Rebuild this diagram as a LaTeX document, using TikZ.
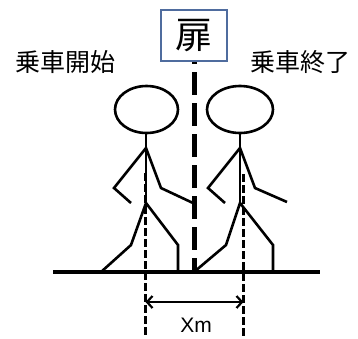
\documentclass[tikz,border=0pt]{standalone}
\usepackage{fontspec}
\setsansfont{Liberation Sans}
\newfontfamily\jpfont{Noto Sans CJK JP}
\usetikzlibrary{arrows.meta}
\definecolor{doorblue}{RGB}{79,108,158}
\tikzset{
  figure/.style={line width=2.6pt, line join=miter},
  ground/.style={line width=4.5pt},
  doorline/.style={line width=5pt, dash pattern=on 23pt off 8pt, dash phase=21pt},
  guide/.style={line width=3.8pt, dash pattern=on 7.5pt off 3.5pt},
  label/.style={font=\jpfont\fontsize{25}{25}\selectfont, inner sep=0pt},
  doorbox/.style={draw=doorblue, line width=1.2pt, minimum width=66pt, minimum height=51pt,
    font=\jpfont\fontsize{37}{37}\selectfont, inner sep=0pt},
  measure/.style={line width=2.2pt, {Straight Barb[length=5.5pt,width=12pt,line width=2.2pt]}-{Straight Barb[length=5.5pt,width=12pt,line width=2.2pt]}},
}
\begin{document}
\begin{tikzpicture}[x=1pt,y=-1pt]
  \useasboundingbox (0,0) rectangle (358,338);

  % door sign and door line
  \node[doorbox] (door) at (194,35.5) {扉};
  \coordinate (doortop) at (194,62);
  \coordinate (doorfoot) at (194,272);
  \draw[doorline] (doortop) -- (doorfoot);

  % labels
  \node[label] (start) at (65.5,62) {乗車開始};
  \node[label] (end) at (300.5,62) {乗車終了};

  % person at boarding start
  \draw[figure] (146.5,109.5) ellipse [x radius=31.5, y radius=23.5];
  \draw[figure] (146,133) -- (146,203);
  \draw[figure] (131,203) -- (114,188) -- (146,148) -- (161,188) -- (193,203);
  \draw[figure] (101,272) -- (131,245) -- (146,203) -- (178,245) -- (178,272);

  % person at boarding end
  \draw[figure] (240,109.5) ellipse [x radius=33, y radius=23.5];
  \draw[figure] (240,133) -- (240,203);
  \draw[figure] (225,203) -- (208,188) -- (240,148) -- (255,188) -- (287,202);
  \draw[figure] (194,272) -- (226,245) -- (240,203) -- (273,245) -- (273,272);

  % floor
  \coordinate (floorL) at (53,272);
  \coordinate (floorR) at (320,272);
  \draw[ground] (floorL) -- (floorR);

  % guide lines and distance
  \coordinate (gLtop) at (145.5,173);
  \coordinate (gLbot) at (145.5,338);
  \coordinate (gRtop) at (243.5,174);
  \coordinate (gRbot) at (243.5,338);
  \draw[guide] (gLtop) -- (gLbot);
  \draw[guide] (gRtop) -- (gRbot);
  \coordinate (mL) at (145.5,302);
  \coordinate (mR) at (243.5,302);
  \draw[measure] (mL) -- (mR);
  \node[font=\sffamily\fontsize{21}{21}\selectfont, inner sep=0pt] (xm) at (196,325) {Xm};
\end{tikzpicture}
\end{document}
